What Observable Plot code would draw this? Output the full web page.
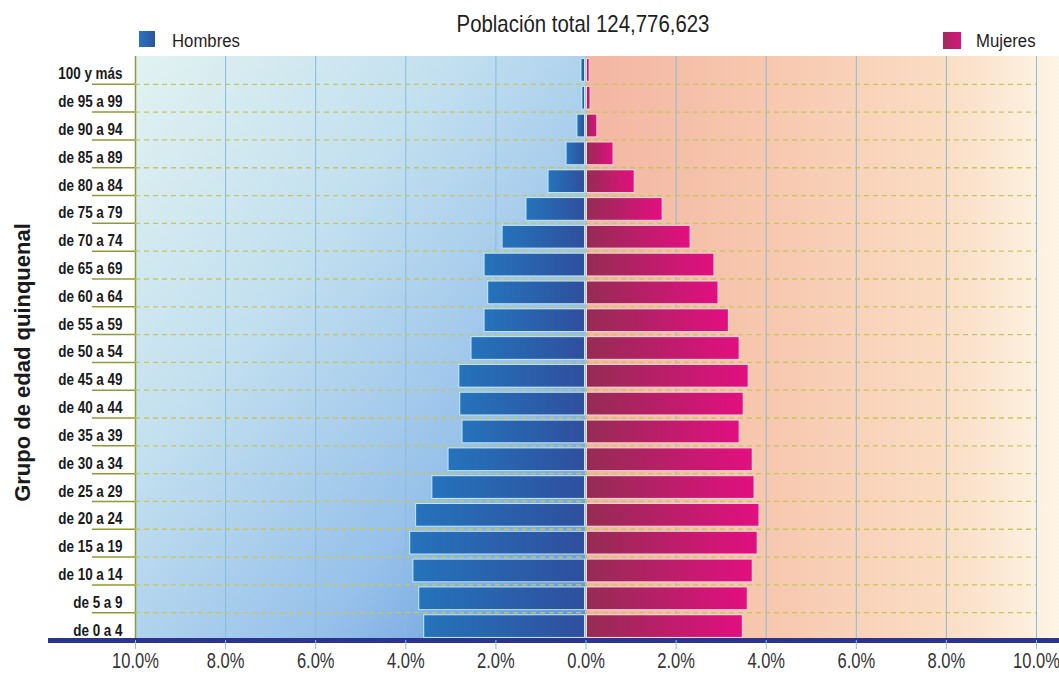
<!DOCTYPE html>
<html>
<head>
<meta charset="utf-8">
<script src="https://cdn.jsdelivr.net/npm/d3@7"></script>
<script src="https://cdn.jsdelivr.net/npm/@observablehq/plot@0.6"></script>
<style>
  html, body { margin: 0; padding: 0; background: #fff; }
  body { width: 1059px; height: 681px; overflow: hidden;
         font-family: "Liberation Sans", Arial, sans-serif; color: #222; }
  #header { position: relative; height: 56px; }
  #title { position: absolute; left: 583px; top: 12px; transform: translateX(-50%) scaleX(0.85);
           font-size: 24px; line-height: 24px; white-space: nowrap; color: #1e1e1e; }
  .legtxt { position: absolute; top: 32px; font-size: 18px; line-height: 18px; white-space: nowrap;
            color: #1e1e1e; transform-origin: left center; transform: scaleX(0.93); }
  .sw { position: absolute; }
  #chart svg { display: block; }
  #chart g[aria-label="y-axis tick label"] text { font-weight: bold; }
</style>
</head>
<body>
<div id="header">
  <div id="title"></div>
  <span class="sw" style="left:139px;top:31px;width:16px;height:16px;background:linear-gradient(90deg,#2676bd,#2f52a0)"></span>
  <div class="legtxt" id="legHtxt" style="left:172px"></div>
  <span class="sw" style="left:943px;top:32px;width:18px;height:17px;background:linear-gradient(90deg,#a02a58,#d8147c)"></span>
  <div class="legtxt" id="legMtxt" style="left:976px"></div>
</div>
<div id="chart"></div>
<script>
// ---- data ----
const titleText = "Población total 124,776,623";
const seriesNames = ["Hombres", "Mujeres"];
const yLabel = "Grupo de edad quinquenal";
const ages = ["100 y más", "de 95 a 99", "de 90 a 94", "de 85 a 89", "de 80 a 84", "de 75 a 79",
  "de 70 a 74", "de 65 a 69", "de 60 a 64", "de 55 a 59", "de 50 a 54", "de 45 a 49",
  "de 40 a 44", "de 35 a 39", "de 30 a 34", "de 25 a 29", "de 20 a 24", "de 15 a 19",
  "de 10 a 14", "de 5 a 9", "de 0 a 4"];
const hombres = [0.09, 0.07, 0.18, 0.42, 0.82, 1.31, 1.84, 2.24, 2.16, 2.24, 2.53, 2.80,
  2.78, 2.73, 3.04, 3.40, 3.76, 3.89, 3.82, 3.69, 3.58];
const mujeres = [0.07, 0.09, 0.24, 0.60, 1.07, 1.69, 2.31, 2.84, 2.93, 3.16, 3.40, 3.60,
  3.49, 3.40, 3.69, 3.73, 3.84, 3.80, 3.69, 3.58, 3.47];
const xTicks = [-10, -8, -6, -4, -2, 0, 2, 4, 6, 8, 10];

document.getElementById("title").textContent = titleText;
document.getElementById("legHtxt").textContent = seriesNames[0];
document.getElementById("legMtxt").textContent = seriesNames[1];

const menRows = ages.map((a, i) => ({age: a, v: -hombres[i]}));
const womenRows = ages.map((a, i) => ({age: a, v: mujeres[i]}));

const W = 1059, H = 625, MB = 41, ML = 135, MR = 23;
const step = (H - MB) / ages.length;
const olive = "#c7c65c";
const oliveDark = "#8f9a35";

function grad(defs, id, stops, x2 = 1, y2 = 0) {
  const g = defs.append("linearGradient").attr("id", id)
    .attr("x1", 0).attr("y1", 0).attr("x2", x2).attr("y2", y2);
  stops.forEach(([o, c]) => g.append("stop").attr("offset", o).attr("stop-color", c));
}
const defsMark = () => {
  const defs = d3.create("svg:defs");
  grad(defs, "bgL", [[0, "#e2f2f1"], [0.35, "#c3e0ef"], [0.7, "#97c1ea"], [1, "#5a92d6"]], 1, 1);
  grad(defs, "bgR", [[0, "#f3b6a2"], [0.35, "#f6c6ad"], [0.75, "#fadcc3"], [1, "#fdf5e6"]]);
  grad(defs, "barH", [[0, "#2573bb"], [1, "#2f4f9d"]]);
  grad(defs, "barM", [[0, "#952c53"], [1, "#e20f80"]]);
  return defs.node();
};

const fmt = d => Math.abs(d).toFixed(1) + "%";

const chart = Plot.plot({
  width: W, height: H,
  marginTop: 0, marginBottom: MB, marginLeft: ML, marginRight: MR,
  style: {fontFamily: '"Liberation Sans", Arial, sans-serif', background: "transparent", color: "#2a2a2a"},
  x: {domain: [-10, 10]},
  y: {domain: ages, paddingInner: 0.22, paddingOuter: 0.11, round: false},
  marks: [
    defsMark,
    Plot.rect([0], {x1: -10, x2: 0, fill: "url(#bgL)"}),
    Plot.rect([0], {x1: 0, x2: 10, fill: "url(#bgR)", insetRight: -MR}),
    Plot.ruleX(xTicks, {stroke: "#86bcdc", strokeWidth: 1}),
    Plot.ruleX([-10], {stroke: oliveDark, strokeWidth: 1.5}),
    Plot.ruleY(ages.slice(0, -1), {dy: step / 2, stroke: olive, strokeWidth: 1.3, strokeDasharray: "5,4"}),
    // light outlines
    Plot.barX(menRows, {x: "v", y: "age", fill: "#bfe8f4", insetLeft: -1, insetTop: -1, insetBottom: -1, insetRight: 0.5}),
    Plot.barX(womenRows, {x: "v", y: "age", fill: "#f3d4de", insetRight: -1, insetTop: -1, insetBottom: -1, insetLeft: 0.5}),
    // bars
    Plot.barX(menRows, {x: "v", y: "age", fill: "url(#barH)", insetRight: 1.5}),
    Plot.barX(womenRows, {x: "v", y: "age", fill: "url(#barM)", insetLeft: 1.5}),
    Plot.frame({anchor: "bottom", stroke: "#2b3591", strokeWidth: 5, insetLeft: -85, insetRight: -MR}),
    Plot.axisX(xTicks, {tickSize: 9, tickPadding: 2.4, stroke: "#8cc2e0", tickFormat: fmt, fontSize: 22, fill: "#333", label: null}),
    Plot.axisY(ages.slice(0, -1), {tickSize: 43, dy: step / 2, stroke: oliveDark, strokeWidth: 1.5, tickFormat: () => "", label: null}),
    Plot.axisY({tickSize: 0, tickPadding: 13, fontSize: 17, fill: "#1a1a1a", dy: 3.5, label: null}),
    Plot.text([yLabel], {text: d => d, frameAnchor: "left", textAnchor: "middle", rotate: -90, dx: -113, dy: 14,
      fontSize: 22, fontWeight: "bold", fill: "#1a1a1a"})
  ]
});
document.getElementById("chart").appendChild(chart);

function squeeze(sel, f) {
  chart.querySelectorAll(sel).forEach(t => {
    const L = t.getComputedTextLength();
    t.setAttribute("textLength", L * f);
    t.setAttribute("lengthAdjust", "spacingAndGlyphs");
  });
}
squeeze('g[aria-label="x-axis tick label"] text', 0.75);
squeeze('g[aria-label="y-axis tick label"] text', 0.79);
</script>
</body>
</html>
